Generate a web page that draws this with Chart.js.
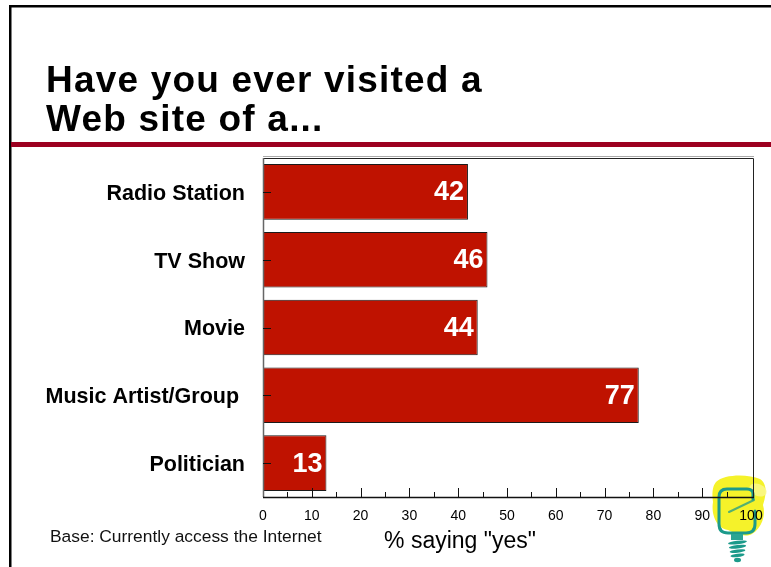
<!DOCTYPE html>
<html>
<head>
<meta charset="utf-8">
<script src="https://cdn.jsdelivr.net/npm/chart.js@4"></script>
<style>
  html, body { margin: 0; padding: 0; background: #fff; }
  #wrap { position: relative; width: 771px; height: 567px; overflow: hidden; }
  #c { position: absolute; left: 0; top: 0; }
</style>
</head>
<body>
<div id="wrap"><canvas id="c" width="771" height="567"></canvas></div>
<script>
// Survey answers: share of respondents who have visited each kind of site
const categories = ['Radio Station', 'TV Show', 'Movie', 'Music Artist/Group ', 'Politician'];
const percentYes = [42, 46, 44, 77, 13];
const titleLines = ['Have you ever visited a', 'Web site of a...'];
const axisTitle = '% saying "yes"';
const baseNote = 'Base: Currently access the Internet';

const FONT = '"Liberation Sans", Arial, Helvetica, sans-serif';
const BOX_EXTRA = 3; // the frame runs a little past the 100 mark

// Slide frame, heading, red rule and the light bulb emblem
const slideDecor = {
  id: 'slideDecor',
  beforeDraw(chart) {
    const ctx = chart.ctx;
    ctx.save();
    ctx.fillStyle = '#000';
    ctx.fillRect(9, 5, 762, 2.5);
    ctx.fillRect(9, 5, 2.5, 562);
    ctx.fillStyle = '#9c0020';
    ctx.fillRect(11, 142, 760, 5);

    ctx.fillStyle = '#000';
    ctx.font = 'bold 37px ' + FONT;
    ctx.letterSpacing = '1.2px';
    ctx.textAlign = 'left';
    ctx.textBaseline = 'alphabetic';
    ctx.fillText(titleLines[0], 46, 92);
    ctx.fillText(titleLines[1], 46, 131);
    ctx.letterSpacing = '0px';

    // yellow glow behind the bulb
    ctx.fillStyle = '#f5f22a';
    ctx.beginPath();
    ctx.moveTo(716, 482);
    ctx.bezierCurveTo(724, 474, 748, 474, 760, 479);
    ctx.bezierCurveTo(768, 484, 766, 496, 763, 505);
    ctx.bezierCurveTo(766, 515, 762, 528, 752, 534);
    ctx.bezierCurveTo(744, 538, 734, 533, 728, 530);
    ctx.bezierCurveTo(716, 528, 711, 514, 713, 502);
    ctx.bezierCurveTo(712, 494, 712, 487, 716, 482);
    ctx.closePath();
    ctx.fill();
    ctx.fillStyle = 'rgba(250,248,140,0.85)';
    ctx.beginPath();
    ctx.ellipse(758, 490, 9, 6, 0.4, 0, Math.PI * 2);
    ctx.fill();

    // bulb outline and filament
    ctx.strokeStyle = '#1c9a8a';
    ctx.lineWidth = 3;
    ctx.lineJoin = 'round';
    ctx.lineCap = 'round';
    ctx.beginPath();
    ctx.moveTo(753, 499);
    ctx.lineTo(753, 494);
    ctx.quadraticCurveTo(753, 489, 747, 489);
    ctx.lineTo(727, 489);
    ctx.quadraticCurveTo(719, 489, 719, 497);
    ctx.lineTo(719, 524);
    ctx.quadraticCurveTo(719, 533, 728, 533);
    ctx.lineTo(746, 533);
    ctx.quadraticCurveTo(755, 533, 755, 524);
    ctx.lineTo(755, 511);
    ctx.stroke();
    ctx.lineWidth = 2;
    ctx.strokeStyle = 'rgba(28,154,138,0.75)';
    ctx.beginPath();
    ctx.moveTo(754, 500);
    ctx.lineTo(729, 512);
    ctx.stroke();

    // neck and screw base
    ctx.fillStyle = '#2aa593';
    ctx.fillRect(731, 534, 12, 6);
    ctx.fillStyle = '#1c9a8a';
    for (let i = 0; i < 4; i++) {
      ctx.beginPath();
      ctx.ellipse(737.5, 542.5 + i * 4.3, 9.5 - i * 0.8, 1.7, -0.12, 0, Math.PI * 2);
      ctx.fill();
    }
    ctx.beginPath();
    ctx.ellipse(737.5, 560, 3.5, 2.2, 0, 0, Math.PI * 2);
    ctx.fill();
    ctx.restore();
  }
};

// Plot box, inward tick marks, bar values and the footer texts
const plotDecor = {
  id: 'plotDecor',
  afterDatasetsDraw(chart) {
    const ctx = chart.ctx;
    const a = chart.chartArea;
    const xs = chart.scales.x;
    const ys = chart.scales.y;
    const right = a.right + BOX_EXTRA;
    ctx.save();

    // box
    ctx.strokeStyle = '#aaa';
    ctx.lineWidth = 1;
    ctx.beginPath();
    ctx.moveTo(a.left, a.top - 1.5);
    ctx.lineTo(right, a.top - 1.5);
    ctx.stroke();
    ctx.strokeStyle = '#222';
    ctx.beginPath();
    ctx.moveTo(a.left, a.top + 0.5);
    ctx.lineTo(right - 0.5, a.top + 0.5);
    ctx.lineTo(right - 0.5, a.bottom);
    ctx.stroke();
    ctx.strokeStyle = '#666';
    ctx.lineWidth = 1.5;
    ctx.beginPath();
    ctx.moveTo(a.left + 0.5, a.top);
    ctx.lineTo(a.left + 0.5, a.bottom);
    ctx.stroke();
    ctx.strokeStyle = '#111';
    ctx.lineWidth = 1.5;
    ctx.beginPath();
    ctx.moveTo(a.left, a.bottom + 0.5);
    ctx.lineTo(right, a.bottom + 0.5);
    ctx.stroke();

    // x ticks every 5, taller at every 10
    ctx.lineWidth = 1;
    ctx.strokeStyle = '#111';
    for (let v = 5; v < 100; v += 5) {
      const px = Math.round(xs.getPixelForValue(v)) + 0.5;
      const len = v % 10 === 0 ? 9 : 5;
      ctx.beginPath();
      ctx.moveTo(px, a.bottom);
      ctx.lineTo(px, a.bottom - len);
      ctx.stroke();
    }
    // y ticks at each category
    categories.forEach((c, i) => {
      const py = Math.round(ys.getPixelForValue(i)) + 0.5;
      ctx.beginPath();
      ctx.moveTo(a.left, py);
      ctx.lineTo(a.left + 8, py);
      ctx.stroke();
    });

    // values inside the bars
    const meta = chart.getDatasetMeta(0);
    ctx.fillStyle = '#fff';
    ctx.font = 'bold 27px ' + FONT;
    ctx.textAlign = 'right';
    ctx.textBaseline = 'middle';
    meta.data.forEach((bar, i) => {
      ctx.fillText(String(percentYes[i]), bar.x - 4, bar.y + 1);
    });

    // footer texts
    ctx.fillStyle = '#000';
    ctx.textBaseline = 'alphabetic';
    ctx.font = '23px ' + FONT;
    ctx.textAlign = 'center';
    ctx.fillText(axisTitle, 460, 548);
    ctx.fillStyle = '#111';
    ctx.font = '17.4px ' + FONT;
    ctx.textAlign = 'left';
    ctx.fillText(baseNote, 50, 542);
    ctx.restore();
  }
};

new Chart(document.getElementById('c'), {
  type: 'bar',
  data: {
    labels: categories,
    datasets: [{
      data: percentYes,
      backgroundColor: '#bf1200',
      borderColor: '#1a1a1a',
      borderWidth: 1,
      barPercentage: 0.82,
      categoryPercentage: 1
    }]
  },
  options: {
    indexAxis: 'y',
    responsive: false,
    animation: false,
    devicePixelRatio: 1,
    layout: { padding: { left: 0, top: 158, right: 20, bottom: 0 } },
    plugins: {
      legend: { display: false },
      tooltip: { enabled: false },
      title: { display: false }
    },
    scales: {
      x: {
        min: 0,
        max: 100,
        afterFit(s) { s.height = 70; s.paddingLeft = 0; s.paddingRight = 0; },
        grid: { display: false, drawTicks: false },
        border: { display: false },
        ticks: {
          stepSize: 10,
          color: '#000',
          padding: 11,
          font: { family: FONT, size: 14 },
          maxRotation: 0,
          autoSkip: false
        }
      },
      y: {
        afterFit(s) { s.width = 263; s.paddingTop = 0; s.paddingBottom = 0; },
        grid: { display: false, drawTicks: false },
        border: { display: false },
        ticks: {
          color: '#000',
          padding: 18,
          labelOffset: 2,
          font: { family: FONT, size: 21.5, weight: 'bold' }
        }
      }
    }
  },
  plugins: [slideDecor, plotDecor]
});
</script>
</body>
</html>
